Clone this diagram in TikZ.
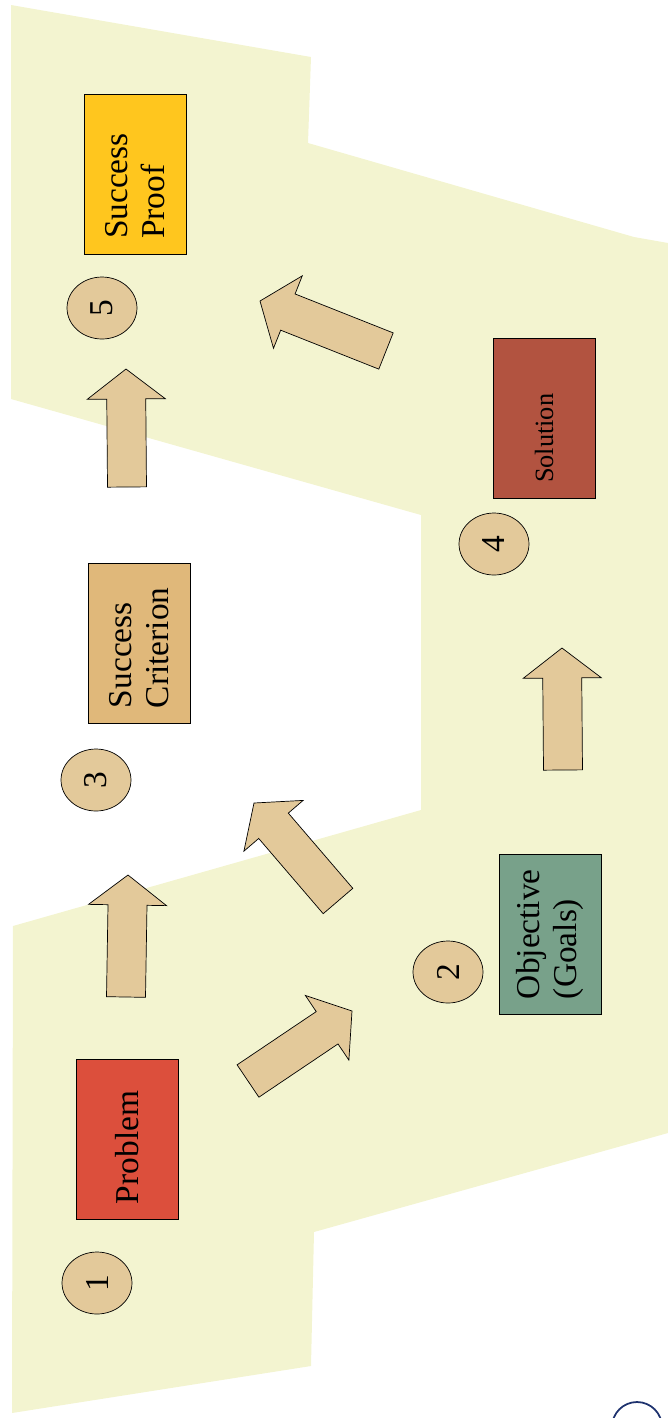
\documentclass[tikz,border=0pt]{standalone}
\usepackage{fontspec}
\setmainfont{Liberation Serif}
\usetikzlibrary{calc,shapes.geometric}
\definecolor{bgyellow}{RGB}{243,244,208}
\definecolor{proofgold}{RGB}{255,198,30}
\definecolor{solred}{RGB}{178,83,64}
\definecolor{critsand}{RGB}{224,184,122}
\definecolor{objgreen}{RGB}{120,161,138}
\definecolor{probred}{RGB}{220,79,60}
\definecolor{stepbeige}{RGB}{227,201,154}
\definecolor{logoblue}{RGB}{30,50,110}
\tikzset{
  stagebox/.style={draw,rotate=90,minimum width=3.2cm,minimum height=2.04cm,
    inner xsep=.3cm,text width=2.6cm,align=left,font=\fontsize{19}{21}\selectfont},
  stepnum/.style={draw,ellipse,fill=stepbeige,rotate=90,minimum width=1.24cm,
    minimum height=1.4cm,inner sep=0pt,font=\fontsize{19}{19}\selectfont},
  blockarrow/.style={draw,fill=stepbeige,line join=miter,thin}
}
% block arrow from tail #1 to tip #2
\newcommand{\bigarrow}[2]{%
  \coordinate (hb) at ($(#2)!.6cm!(#1)$);
  \draw[blockarrow] ($(#1)!.39cm!90:(#2)$) -- ($(hb)!.39cm!90:(#2)$)
    -- ($(hb)!.78cm!90:(#2)$) -- (#2) -- ($(hb)!.78cm!-90:(#2)$)
    -- ($(hb)!.39cm!-90:(#2)$) -- ($(#1)!.39cm!-90:(#2)$) -- cycle;
}

\begin{document}
\begin{tikzpicture}[x=.02cm,y=-.02cm]
    \useasboundingbox (0,0) rectangle (668,1418);
    \clip (0,0) rectangle (668,1418);
    % background band
    \fill[bgyellow] (11,5) -- (311,57) -- (308,143) -- (634,237) -- (668,243)
      -- (668,1133) -- (314,1232) -- (311,1366) -- (12,1413) -- (13,926)
      -- (421,810) -- (421,515) -- (11,399) -- cycle;
    \draw[logoblue,line width=1pt] (637,1427) circle[radius=25];

    % stages
    \node[stagebox,fill=proofgold] (proof) at (135,174) {Success\\Proof};
    \node[stagebox,fill=solred,font=\fontsize{15}{17}\selectfont] (sol) at (544,418) {Solution};
    \node[stagebox,fill=critsand] (crit) at (139,643) {Success\\Criterion};
    \node[stagebox,fill=objgreen] (obj) at (550,934) {Objective\\(Goals)};
    \node[stagebox,fill=probred] (prob) at (127,1139) {Problem};

    % step numbers
    \foreach \n/\x/\y in {1/97/1283,2/448/972,3/96/780,4/494/544,5/102/308}
        \node[stepnum] (s\n) at (\x,\y) {\n};

    % arrows
    \coordinate (t13) at (126,997);   \coordinate (h13) at (128,875);
    \coordinate (t35) at (127,487);   \coordinate (h35) at (126,369);
    \coordinate (t24) at (563,770);   \coordinate (h24) at (562,648);
    \coordinate (t12) at (248,1081);  \coordinate (h12) at (352,1011);
    \coordinate (t23) at (338,901);   \coordinate (h23) at (254,803);
    \coordinate (t45) at (386,351);   \coordinate (h45) at (260,301);
    \foreach \a in {13,35,24,12,23,45} {
        \bigarrow{t\a}{h\a}
    }
\end{tikzpicture}
\end{document}
